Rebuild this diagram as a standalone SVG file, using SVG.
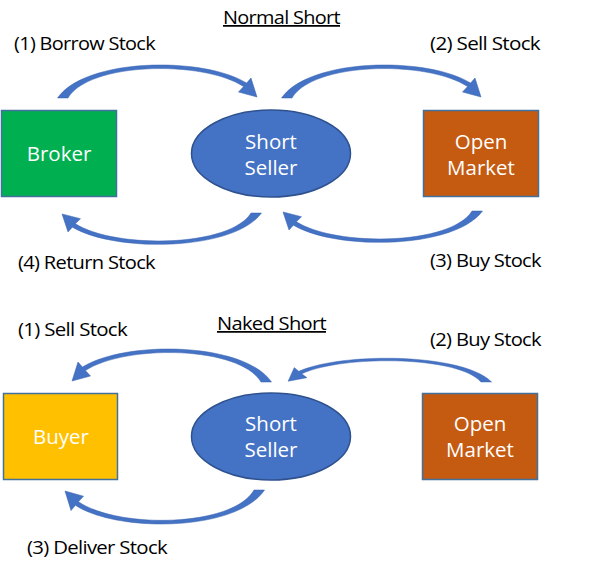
<svg xmlns="http://www.w3.org/2000/svg" xmlns:xlink="http://www.w3.org/1999/xlink" width="600" height="571" viewBox="0 0 600 571">
<style>
.lbl{font-family:"Open Sans","Liberation Sans",sans-serif;font-size:17.5px;fill:#000;letter-spacing:-0.6px}
.ttl{font-family:"Open Sans","Liberation Sans",sans-serif;font-size:17.5px;fill:#000;text-decoration:underline;letter-spacing:-0.6px}
.nt{font-family:"Open Sans","Liberation Sans",sans-serif;font-size:20.5px;fill:#fff;text-anchor:middle}
.box{stroke:#41719C;stroke-width:1.5}
.ell{fill:#4472C4;stroke:#2F528F;stroke-width:1.5}
.arr{fill:#4472C4;stroke:#3A62AE;stroke-width:0.5}
</style>
<defs>
<path id="carrow" d="M-5.5,0 C22,-40 140,-42 183.6,-14.9 L188,-20 L194,-1 L175.5,-6 L180.6,-11.4 C140,-38 26,-36 5,0 Z"/>
</defs>
<rect width="600" height="571" fill="#fff"/>

<g id="titles">
<text class="ttl" x="223" y="24" textLength="117" lengthAdjust="spacingAndGlyphs">Normal Short</text>
<text class="ttl" x="217" y="330" textLength="109" lengthAdjust="spacingAndGlyphs">Naked Short</text>
</g>

<g id="labels">
<text class="lbl" x="14" y="50" textLength="141" lengthAdjust="spacingAndGlyphs">(1) Borrow Stock</text>
<text class="lbl" x="430" y="50" textLength="110" lengthAdjust="spacingAndGlyphs">(2) Sell Stock</text>
<text class="lbl" x="18" y="269" textLength="137" lengthAdjust="spacingAndGlyphs">(4) Return Stock</text>
<text class="lbl" x="430" y="267" textLength="111" lengthAdjust="spacingAndGlyphs">(3) Buy Stock</text>
<text class="lbl" x="18" y="336" textLength="109" lengthAdjust="spacingAndGlyphs">(1) Sell Stock</text>
<text class="lbl" x="430" y="346" textLength="111" lengthAdjust="spacingAndGlyphs">(2) Buy Stock</text>
<text class="lbl" x="27" y="554" textLength="140" lengthAdjust="spacingAndGlyphs">(3) Deliver Stock</text>
</g>

<g id="broker">
<rect class="box" x="1.5" y="110.5" width="115" height="86" fill="#00B050"/>
<text class="nt" x="59" y="161">Broker</text>
</g>
<g id="short-seller-1">
<ellipse class="ell" cx="271" cy="153.5" rx="79.5" ry="43.5"/>
<text class="nt" x="271" y="149">Short</text>
<text class="nt" x="271" y="175">Seller</text>
</g>
<g id="open-market-1">
<rect class="box" x="423.5" y="110.5" width="115" height="86" fill="#C55A11"/>
<text class="nt" x="481" y="149">Open</text>
<text class="nt" x="481" y="175">Market</text>
</g>

<g id="buyer">
<rect class="box" x="3.5" y="393.5" width="114" height="86" fill="#FFC000"/>
<text class="nt" x="61" y="444">Buyer</text>
</g>
<g id="short-seller-2">
<ellipse class="ell" cx="271" cy="436.5" rx="79.5" ry="43.5"/>
<text class="nt" x="271" y="431">Short</text>
<text class="nt" x="271" y="457">Seller</text>
</g>
<g id="open-market-2">
<rect class="box" x="422.5" y="393.5" width="115" height="86" fill="#C55A11"/>
<text class="nt" x="480" y="431">Open</text>
<text class="nt" x="480" y="457">Market</text>
</g>

<g id="connectors" class="arr">
<use xlink:href="#carrow" href="#carrow" transform="translate(63,98)"/>
<use xlink:href="#carrow" href="#carrow" transform="translate(287,98)"/>
<use xlink:href="#carrow" href="#carrow" transform="translate(256,213) scale(-1,-0.95)"/>
<use xlink:href="#carrow" href="#carrow" transform="translate(477,211) scale(-1,-0.95)"/>
<use xlink:href="#carrow" href="#carrow" transform="translate(266,382) scale(-1,1)"/>
<use xlink:href="#carrow" href="#carrow" transform="translate(486,382) scale(-1.02,0.72)"/>
<use xlink:href="#carrow" href="#carrow" transform="translate(259,490) scale(-1,-1.03)"/>
</g>
</svg>
